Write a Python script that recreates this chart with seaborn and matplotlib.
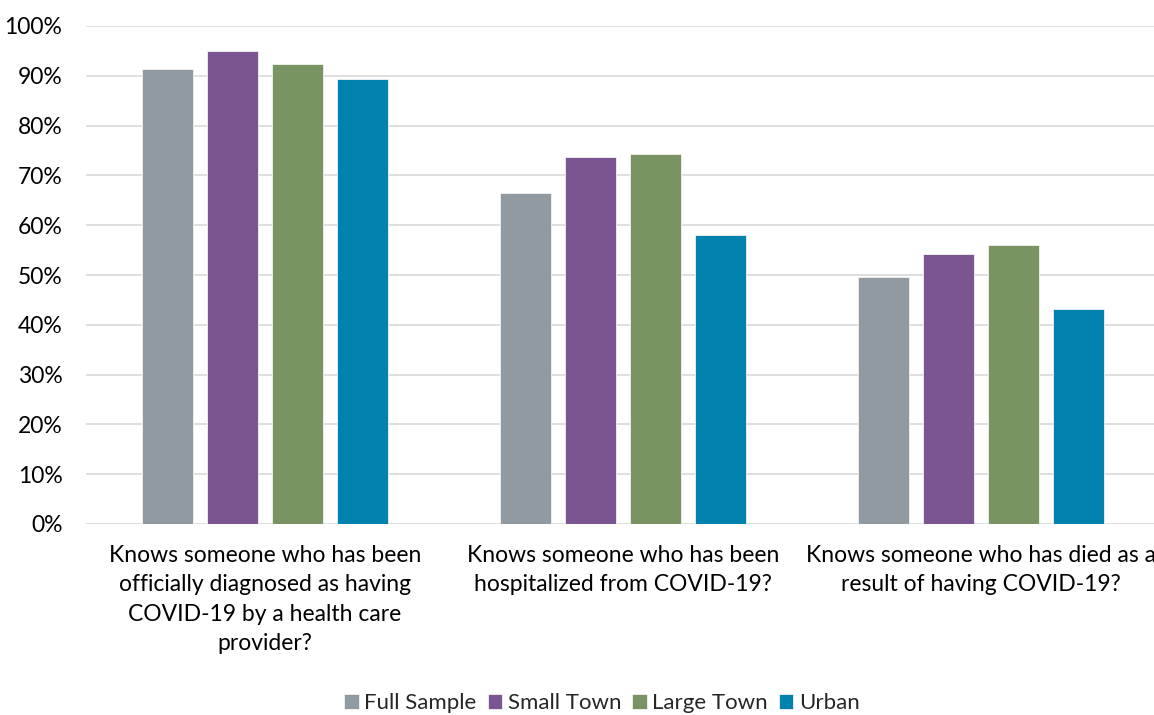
import matplotlib
matplotlib.use("Agg")
import matplotlib.pyplot as plt
import seaborn as sns
import pandas as pd
from matplotlib.ticker import PercentFormatter, MultipleLocator

# Survey results: share of respondents who know someone affected by COVID-19
questions = [
    "Knows someone who has been\nofficially diagnosed as having\nCOVID-19 by a health care\nprovider?",
    "Knows someone who has been\nhospitalized from COVID-19?",
    "Knows someone who has died as a\nresult of having COVID-19?",
]
groups = ["Full Sample", "Small Town", "Large Town", "Urban"]
full_sample = [91.4, 66.4, 49.5]
small_town = [95.0, 73.7, 54.2]
large_town = [92.3, 74.2, 56.0]
urban = [89.4, 58.1, 43.2]
colors = ["#9199A1", "#7B5591", "#7A9362", "#0081AE"]

rows = []
for g, vals in zip(groups, [full_sample, small_town, large_town, urban]):
    for q, v in zip(questions, vals):
        rows.append({"question": q, "group": g, "value": v / 100})
df = pd.DataFrame(rows)

sns.set_theme(style="white")
plt.rcParams["font.family"] = ["Lato", "DejaVu Sans"]

W, H = 1154, 715
fig = plt.figure(figsize=(W / 100, H / 100), dpi=100)
ax = fig.add_axes([86 / W, 1 - 524 / H, (1160 - 86) / W, (524 - 26) / H])

sns.barplot(data=df, x="question", y="value", hue="group", hue_order=groups,
            order=questions, palette=colors, width=0.726, gap=0.215,
            edgecolor="#f2f2f2", linewidth=0.6, saturation=1, ax=ax, zorder=3)

ax.set_ylim(0, 1.0)
ax.yaxis.set_major_locator(MultipleLocator(0.1))
ax.yaxis.set_major_formatter(PercentFormatter(1.0, decimals=0))
ax.grid(axis="y", color="#d9d9d9", linewidth=1.2, zorder=0)
ax.set_axisbelow(True)
for s in ax.spines.values():
    s.set_visible(False)
ax.tick_params(axis="y", length=0, pad=17, labelsize=16.5, labelcolor="#000000")
ax.tick_params(axis="x", length=0, pad=15, labelsize=16.5, labelcolor="#000000")
for lbl in ax.get_xticklabels():
    lbl.set_linespacing(1.5)
ax.set_xlabel("")
ax.set_ylabel("")

handles, labels = ax.get_legend_handles_labels()
ax.legend_.remove()
fig.legend(handles, labels, loc="center", bbox_to_anchor=(602 / W, 1 - 703 / H),
           ncol=4, frameon=False, fontsize=16, handlelength=0.65, handleheight=0.65,
           handletextpad=0.25, columnspacing=0.5)

fig.savefig("out.png", dpi=100)
